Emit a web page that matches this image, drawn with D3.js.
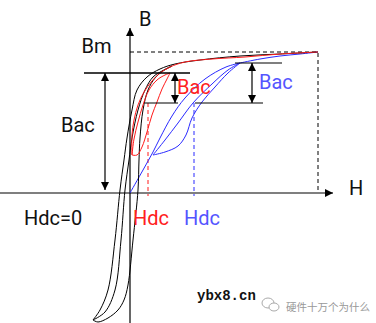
<!DOCTYPE html>
<html>
<head>
<meta charset="utf-8">
<script src="https://cdn.jsdelivr.net/npm/d3@7"></script>
<style>
  body { margin: 0; background: #fff; }
  svg { display: block; font-family: Roboto, "Noto Sans", sans-serif; }
</style>
</head>
<body>
<div id="vis-container"></div>
<script>
// hysteresis curves as [H, B] pairs
var blackLeft = [[-3.7,-12.7],[-3.0,-11.7],[-2.2,-9.7],[-1.5,-4.7],[-1.0,0.3],[-0.6,3.3],[-0.3,5.5],
  [0.2,8.3],[0.7,10.3],[1.7,11.6],[3.0,12.4],[4.5,12.9],[7.0,13.3],[11.0,13.7],[15.0,13.9],[18.8,14.1]];
var blackMid = [[-3.7,-12.7],[-2.5,-11.9],[-1.5,-9.7],[-0.9,-4.7],[-0.5,0.3],[-0.1,3.3],[0.2,5.5],
  [0.8,8.3],[1.5,10.3],[2.3,11.6],[3.2,12.2],[4.2,12.7]];
var blackRight = [[-3.7,-12.7],[-3.2,-12.9],[-2.2,-12.5],[-1.2,-11.7],[-0.6,-10.7],[-0.2,-9.2],[0.3,-4.7],
  [0.8,0.3],[0.9,3.3],[1.0,5.5],[1.3,8.3],[1.8,10.3],[2.5,11.5],[3.3,12.2],[4.2,12.7]];

var redSat = [[0.2,3.8],[0.2,5.8],[0.4,7.3],[0.8,8.8],[1.4,10.1],[2.2,11.2],[3.0,12.0],[4.0,12.6],
  [5.5,13.1],[8.2,13.4],[11.5,13.6],[15.0,13.9],[18.8,14.1]];
var redUp = [[0.2,3.8],[0.4,5.4],[0.8,7.1],[1.3,8.8],[1.9,10.3],[2.7,11.3],[3.5,11.8],[4.0,12.0]];
var redDown = [[4.0,12.0],[3.7,11.4],[3.2,10.4],[2.7,9.1],[2.2,7.8],[1.7,6.1],[1.2,4.6],[0.7,3.8],[0.2,3.8]];

var blueInit = [[0,0],[1.3,2.3],[2.3,4.1],[3.0,5.5],[4.2,7.7],[5.5,9.5],[7.5,11.4],[9.6,12.6],[11.0,13.0]];
var blueUp = [[2.3,3.8],[3.5,5.3],[4.8,7.0],[6.3,9.0],[8.2,10.9],[9.8,12.3],[11.0,13.0]];
var blueDown = [[11.0,13.0],[9.8,12.0],[8.5,10.6],[7.2,9.1],[6.2,7.5],[5.6,5.8],[4.8,4.7],[3.5,4.1],[2.3,3.8]];
var blueSat = [[11.0,13.0],[13.0,13.4],[15.0,13.7],[17.0,13.9],[18.8,14.1]];

var Bm = 14.1, Hsat = 18.8;
// black / red / blue operating points
var hdc = [0, 1.8, 6.4];
var bacTop = [12, 12, 13];
var bacBottom = [0.3, 9, 9];
var arrowH = [-2.5, 4.5, 12.2];
var guideFrom = [-4.6, 1.5, 6.5];
var guideTo = [6.0, 4.8, 13.3];
var topFrom = [-4.6, -4.6, 10.5];
var topTo = [6.0, 6.0, 15.2];
var colors = ["#000", "#ff1a1a", "#2a2aff"];
var textColors = ["#111", "#ff2020", "#5555ff"];

var width = 376, height = 323;
var x = d3.scaleLinear().domain([0, 20]).range([130, 330]);
var y = d3.scaleLinear().domain([0, 14]).range([193, 53]);

var svg = d3.select("#vis-container").append("svg")
  .attr("width", width).attr("height", height);

var defs = svg.append("defs");
defs.append("marker").attr("id", "arr")
  .attr("viewBox", "0 0 10 10").attr("refX", 10).attr("refY", 5)
  .attr("markerWidth", 9).attr("markerHeight", 8)
  .attr("markerUnits", "userSpaceOnUse").attr("orient", "auto-start-reverse")
  .append("path").attr("d", "M0,0L10,5L0,10z").attr("fill", "#000");

// axes
svg.append("line").attr("x1", x(-13)).attr("x2", x(20.3)).attr("y1", y(0)).attr("y2", y(0))
  .attr("stroke", "#000").attr("stroke-width", 1.2).attr("marker-end", "url(#arr)");
svg.append("line").attr("x1", x(0)).attr("x2", x(0)).attr("y1", y(-13.2)).attr("y2", y(16.5))
  .attr("stroke", "#000").attr("stroke-width", 1.2).attr("marker-end", "url(#arr)");

// Bm dashed box
svg.append("path")
  .attr("d", "M" + x(0) + "," + y(Bm) + "H" + x(Hsat) + "V" + y(0))
  .attr("fill", "none").attr("stroke", "#000").attr("stroke-dasharray", "4,3");

// Hdc dashed lines
[1, 2].forEach(function (i) {
  svg.append("line").attr("x1", x(hdc[i])).attr("x2", x(hdc[i]))
    .attr("y1", y(bacBottom[i])).attr("y2", y(-0.3))
    .attr("stroke", colors[i]).attr("stroke-dasharray", "4,3");
});

var line = d3.line().x(function (d) { return x(d[0]); }).y(function (d) { return y(d[1]); })
  .curve(d3.curveCatmullRom.alpha(0.5));

var curves = [
  [blueInit, 2], [blueUp, 2], [blueDown, 2], [blueSat, 2],
  [blackLeft, 0], [blackMid, 0], [blackRight, 0],
  [redSat, 1], [redUp, 1], [redDown, 1]
];
svg.selectAll(".curve").data(curves).enter().append("path")
  .attr("class", "curve")
  .attr("d", function (d) { return line(d[0]); })
  .attr("fill", "none")
  .attr("stroke", function (d) { return colors[d[1]]; })
  .attr("stroke-width", 1);

// Bac guide lines and double arrows
[0, 1, 2].forEach(function (i) {
  svg.append("line").attr("x1", x(topFrom[i])).attr("x2", x(topTo[i]))
    .attr("y1", y(bacTop[i])).attr("y2", y(bacTop[i])).attr("stroke", "#000").attr("stroke-width", 1.2);
  if (i > 0) {
    svg.append("line").attr("x1", x(guideFrom[i])).attr("x2", x(guideTo[i]))
      .attr("y1", y(bacBottom[i])).attr("y2", y(bacBottom[i])).attr("stroke", "#000").attr("stroke-width", 1.2);
  }
  svg.append("line").attr("x1", x(arrowH[i])).attr("x2", x(arrowH[i]))
    .attr("y1", y(bacTop[i])).attr("y2", y(bacBottom[i]))
    .attr("stroke", "#000").attr("stroke-width", 1.2)
    .attr("marker-start", "url(#arr)").attr("marker-end", "url(#arr)");
});

// labels
function label(t, h, b, c, size) {
  svg.append("text").attr("x", x(h)).attr("y", y(b)).attr("fill", c)
    .attr("font-size", size || 20).text(t);
}
label("B", 0.9, 16.7, "#111");
label("Bm", -4.85, 14, "#111");
label("H", 21.9, -0.2, "#111");
label("Bac", -6.9, 6.1, textColors[0]);
label("Bac", 4.7, 9.9, textColors[1]);
label("Bac", 12.9, 10.4, textColors[2]);
label("Hdc=0", -10.6, -3.2, textColors[0]);
label("Hdc", 0.3, -3.2, textColors[1]);
label("Hdc", 5.4, -3.2, textColors[2]);

// watermark
svg.append("text").attr("x", 197).attr("y", 300).attr("font-family", "'Liberation Mono', monospace")
  .attr("font-weight", "bold").attr("font-size", 14).attr("fill", "#111").text("ybx8.cn");
svg.append("ellipse").attr("cx", 268).attr("cy", 303).attr("rx", 6).attr("ry", 5)
  .attr("fill", "#fff").attr("stroke", "#aaa");
svg.append("ellipse").attr("cx", 274).attr("cy", 307).attr("rx", 5).attr("ry", 4)
  .attr("fill", "#fff").attr("stroke", "#aaa");
svg.append("text").attr("x", 286).attr("y", 311).attr("font-family", "'Noto Sans CJK SC', sans-serif")
  .attr("font-size", 10.5).attr("fill", "#999").text("硬件十万个为什么");
</script>
</body>
</html>
